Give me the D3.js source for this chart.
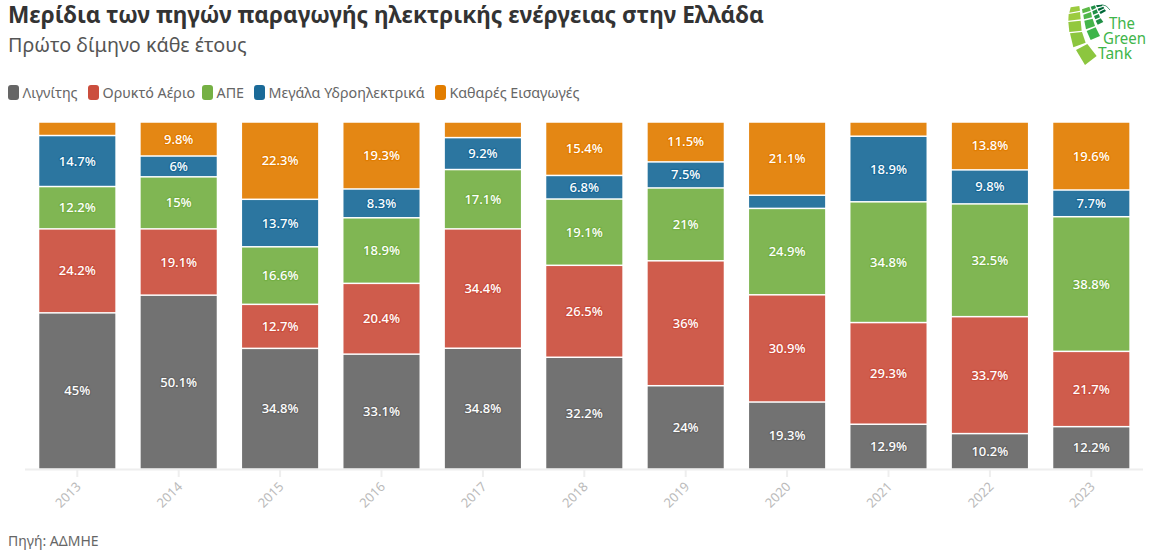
<!DOCTYPE html>
<html><head><meta charset="utf-8">
<script src="https://cdn.jsdelivr.net/npm/d3@7"></script>
<style>
html,body{margin:0;padding:0;background:#fff;}
svg{display:block;font-family:"Noto Sans",sans-serif;}
.val{font-size:13px;font-weight:500;fill:#fff;text-anchor:middle;paint-order:stroke;stroke-width:2.5px;stroke-linejoin:round;}
</style></head><body>
<svg id="c" width="1153" height="555"></svg>
<script>
const years=["2013","2014","2015","2016","2017","2018","2019","2020","2021","2022","2023"];
const seriesNames=["Λιγνίτης","Ορυκτό Αέριο","ΑΠΕ","Μεγάλα Υδροηλεκτρικά","Καθαρές Εισαγωγές"];
const lignite=[45,50.1,34.8,33.1,34.8,32.2,24,19.3,12.9,10.2,12.2];
const gas=[24.2,19.1,12.7,20.4,34.4,26.5,36,30.9,29.3,33.7,21.7];
const renewables=[12.2,15,16.6,18.9,17.1,19.1,21,24.9,34.8,32.5,38.8];
const hydro=[14.7,6,13.7,8.3,9.2,6.8,7.5,3.8,18.9,9.8,7.7];
const imports=[3.9,9.8,22.3,19.3,4.5,15.4,11.5,21.1,4.1,13.8,19.6];
const colors=["#666666","#cb4e3d","#75b044","#1a6a98","#e27d00"];
const minLabel=5;

const svg=d3.select("#c");
const x=d3.scaleBand().domain(years).range([26.6,1142]).paddingInner(0.25).paddingOuter(0.125);
const y=d3.scaleLinear().domain([0,1]).range([469,122]);

const cols=[lignite,gas,renewables,hydro,imports];
const rows=years.map((yr,i)=>{const o={year:yr};seriesNames.forEach((s,j)=>o[s]=cols[j][i]);return o;});
const stack=d3.stack().keys(seriesNames).offset(d3.stackOffsetExpand)(rows);

// title
svg.append("text").attr("x",8).attr("y",23).attr("font-size",22.6).attr("font-weight",700).attr("fill","#333").text("Μερίδια των πηγών παραγωγής ηλεκτρικής ενέργειας στην Ελλάδα");
svg.append("text").attr("x",8).attr("y",52).attr("font-size",19.8).attr("fill","#555").text("Πρώτο δίμηνο κάθε έτους");

// legend
const legendX=[8,88,202,254,435];
const lg=svg.append("g").selectAll("g").data(seriesNames).join("g").attr("transform",(d,i)=>`translate(${legendX[i]},85)`);
lg.append("rect").attr("width",11).attr("height",15).attr("rx",3).attr("fill",(d,i)=>colors[i]);
lg.append("text").attr("x",14.5).attr("y",12.5).attr("font-size",14.3).attr("fill","#666").text(d=>d);

// axis
const ax=svg.append("g").attr("transform","translate(0,469)").call(d3.axisBottom(x).tickSize(8).tickPadding(5));
ax.select(".domain").attr("stroke","#eee").attr("stroke-width",2).attr("d","M25,0.5H1143");
ax.selectAll(".tick line").attr("stroke","#eee").attr("stroke-width",2);
ax.selectAll(".tick text").attr("font-family",'"Noto Sans",sans-serif').attr("font-size",13).attr("fill","#bbb")
  .attr("text-anchor","middle").attr("dy",0).attr("y",0)
  .attr("transform","translate(-6,29) rotate(-45)");

// bars
const layer=svg.append("g").selectAll("g").data(stack).join("g").attr("fill",(d,i)=>colors[i]).attr("fill-opacity",.92);
layer.selectAll("rect").data(d=>d).join("rect")
  .attr("x",d=>x(d.data.year)).attr("width",x.bandwidth())
  .attr("y",d=>y(d[1])+0.75).attr("height",d=>Math.max(0,y(d[0])-y(d[1])-1.5));
const labels=stack.flatMap((s,i)=>s.filter(v=>v.data[s.key]>=minLabel).map(v=>({v,key:s.key,i})));
svg.append("g").selectAll("text").data(labels).join("text").attr("class","val")
  .attr("stroke",d=>colors[d.i])
  .attr("x",d=>x(d.v.data.year)+x.bandwidth()/2)
  .attr("y",d=>(y(d.v[0])+y(d.v[1]))/2+4.5)
  .text(d=>d.v.data[d.key]+"%");

// source
svg.append("text").attr("x",8).attr("y",546).attr("font-size",14).attr("fill","#666").text("Πηγή: ΑΔΜΗΕ");

// logo
const logoBlocks=[
 ["#9ccb3f",[[32,22],[58,18],[60,32],[28,38]]],
 ["#9ccb3f",[[26,42],[60,36],[62,58],[25,62]]],
 ["#92c83e",[[25,66],[62,62],[65,92],[28,96]]],
 ["#8cc63f",[[30,100],[66,96],[77,128],[40,142]]],
 ["#8cc63f",[[48,150],[82,132],[110,168],[75,195]]],
 ["#5cb947",[[66,28],[88,20],[92,32],[68,40]]],
 ["#4fb648",[[70,44],[93,36],[96,52],[72,58]]],
 ["#45b549",[[73,62],[98,56],[105,78],[78,88]]],
 ["#3db54a",[[80,93],[107,82],[120,108],[92,120]]],
 ["#1f8f45",[[92,20],[105,16],[108,24],[96,30]]],
 ["#1f8f45",[[97,34],[110,28],[114,38],[100,44]]],
 ["#1f8f45",[[102,48],[116,42],[120,52],[106,58]]],
 ["#1f8f45",[[107,62],[122,55],[130,66],[113,74]]],
 ["#006837",[[108,16],[125,14],[128,18],[111,22]]],
 ["#006837",[[113,26],[130,20],[133,25],[116,33]]],
 ["#006837",[[118,36],[134,28],[138,33],[122,42]]]
];
const logo=svg.append("g").attr("transform","translate(1060,0) scale(0.3333)");
logo.selectAll("polygon").data(logoBlocks).join("polygon").attr("points",d=>d[1].join(" ")).attr("fill",d=>d[0]);
logo.append("path").attr("d","M125,14Q140,14 150,30").attr("fill","none").attr("stroke","#006837").attr("stroke-width",2);
const logoWords=[["The",1109,29,26],["Green",1103,44,43],["Tank",1098,59,34]];
svg.selectAll(".lw").data(logoWords).join("text").attr("class","lw").attr("x",d=>d[1]).attr("y",d=>d[2])
  .attr("font-size",16.5).attr("fill","#3fb54a").attr("textLength",d=>d[3]).attr("lengthAdjust","spacingAndGlyphs").text(d=>d[0]);
</script></body></html>
